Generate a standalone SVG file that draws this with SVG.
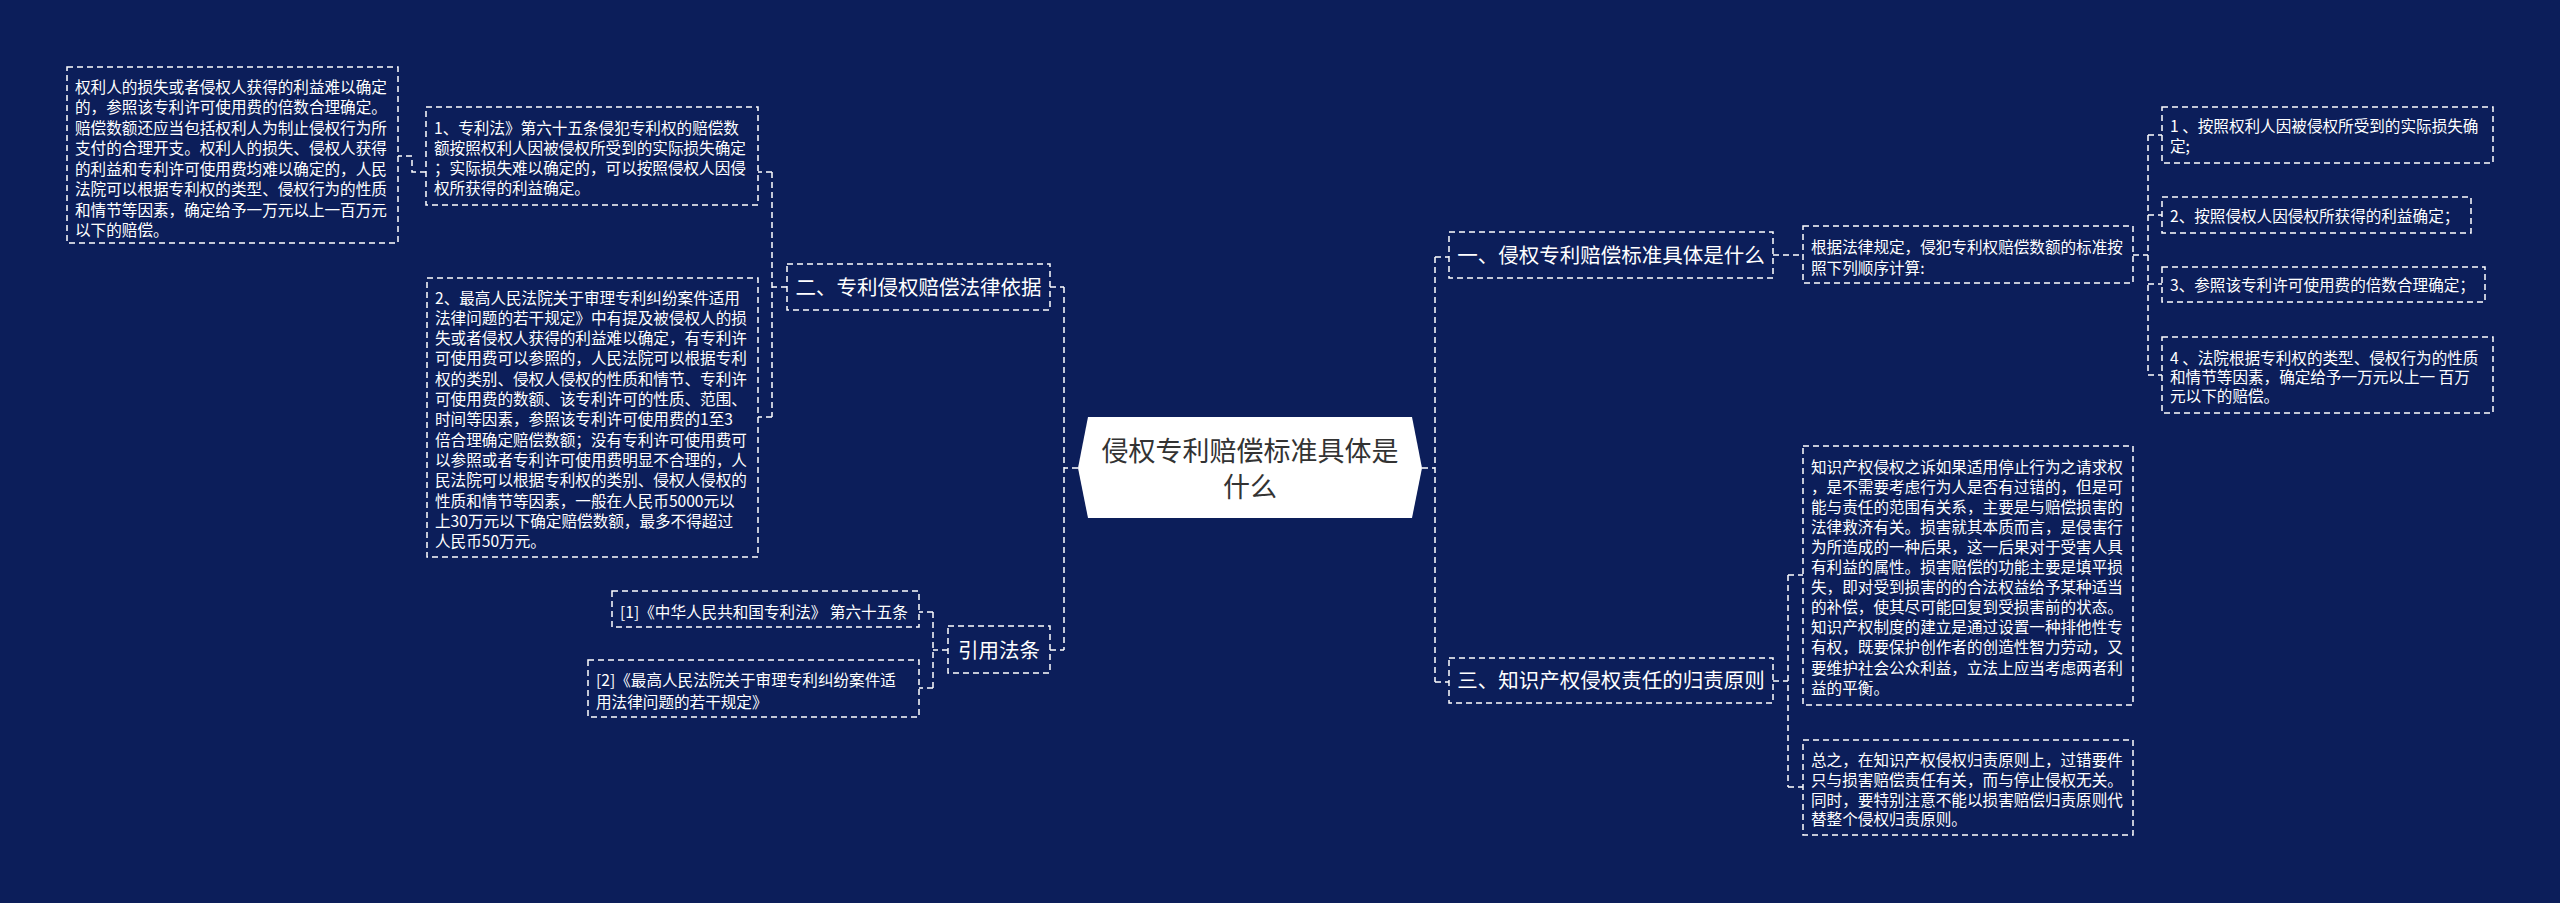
<svg xmlns="http://www.w3.org/2000/svg" width="2560" height="903" viewBox="0 0 2560 903">
<style>
.bg{fill:#0c1e5a}
.box{fill:none;stroke:#ffffff;stroke-width:1.5;stroke-dasharray:6 4}
.ln{fill:none;stroke:#ffffff;stroke-width:1.5;stroke-dasharray:6 4}
.t{font-family:"Noto Sans CJK SC","Noto Sans",sans-serif;font-size:15.6px;fill:#ffffff}
.h{font-family:"Noto Sans CJK SC","Noto Sans",sans-serif;font-size:20.5px;fill:#ffffff;text-anchor:middle}
.c{font-family:"Noto Sans CJK SC","Noto Sans",sans-serif;font-size:27px;fill:#333333;text-anchor:middle}
</style>
<rect class="bg" x="0" y="0" width="2560" height="903"/>
<g id="connectors">
<path class="ln" d="M1078,468 H1064"/>
<path class="ln" d="M1064,287 V650 M1050,287 H1064 M1050,650 H1064"/>
<path class="ln" d="M787,287 H772 M772,172 V417 M772,172 H758 M772,417 H758"/>
<path class="ln" d="M426,172 H412 V156 H398"/>
<path class="ln" d="M948,650 H933 M933,612 V688 M933,612 H919 M933,688 H919"/>
<path class="ln" d="M1422,468 H1435 M1435,257 V682 M1435,257 H1449 M1435,682 H1449"/>
<path class="ln" d="M1773,255 H1803"/>
<path class="ln" d="M2133,255 H2148 M2148,135 V375 M2148,135 H2162 M2148,215 H2162 M2148,284 H2162 M2148,375 H2162"/>
<path class="ln" d="M1773,681 H1788 M1788,575 V787 M1788,575 H1803 M1788,787 H1803"/>
</g>
<g id="center">
<polygon points="1088,417 1412,417 1422,468 1412,518 1088,518 1078,468" fill="#ffffff"/>
<text class="c" x="1250" y="461">侵权专利赔偿标准具体是</text>
<text class="c" x="1250" y="497">什么</text>
</g>
<g id="n-basis">
<rect class="box" x="787" y="264" width="263" height="46"/>
<text class="h" x="918.5" y="294.5">二、专利侵权赔偿法律依据</text>
</g>
<g id="n-basis-1">
<rect class="box" x="426" y="107" width="332" height="98"/>
<text class="t" x="434"><tspan x="434" y="133.5">1、专利法》第六十五条侵犯专利权的赔偿数</tspan><tspan x="434" y="153.5">额按照权利人因被侵权所受到的实际损失确定</tspan><tspan x="434" y="173.5">；实际损失难以确定的，可以按照侵权人因侵</tspan><tspan x="434" y="193.5">权所获得的利益确定。</tspan></text>
</g>
<g id="n-basis-1-1">
<rect class="box" x="67" y="67" width="331" height="176"/>
<text class="t"><tspan x="75" y="92.5">权利人的损失或者侵权人获得的利益难以确定</tspan><tspan x="75" y="113">的，参照该专利许可使用费的倍数合理确定。</tspan><tspan x="75" y="133.5">赔偿数额还应当包括权利人为制止侵权行为所</tspan><tspan x="75" y="154">支付的合理开支。权利人的损失、侵权人获得</tspan><tspan x="75" y="174.5">的利益和专利许可使用费均难以确定的，人民</tspan><tspan x="75" y="195">法院可以根据专利权的类型、侵权行为的性质</tspan><tspan x="75" y="215.5">和情节等因素，确定给予一万元以上一百万元</tspan><tspan x="75" y="236">以下的赔偿。</tspan></text>
</g>
<g id="n-basis-2">
<rect class="box" x="427" y="278" width="331" height="279"/>
<text class="t"><tspan x="435" y="303.5">2、最高人民法院关于审理专利纠纷案件适用</tspan><tspan x="435" y="323.8">法律问题的若干规定》中有提及被侵权人的损</tspan><tspan x="435" y="344.1">失或者侵权人获得的利益难以确定，有专利许</tspan><tspan x="435" y="364.4">可使用费可以参照的，人民法院可以根据专利</tspan><tspan x="435" y="384.7">权的类别、侵权人侵权的性质和情节、专利许</tspan><tspan x="435" y="405">可使用费的数额、该专利许可的性质、范围、</tspan><tspan x="435" y="425.3">时间等因素，参照该专利许可使用费的1至3</tspan><tspan x="435" y="445.6">倍合理确定赔偿数额；没有专利许可使用费可</tspan><tspan x="435" y="465.9">以参照或者专利许可使用费明显不合理的，人</tspan><tspan x="435" y="486.2">民法院可以根据专利权的类别、侵权人侵权的</tspan><tspan x="435" y="506.5">性质和情节等因素，一般在人民币5000元以</tspan><tspan x="435" y="526.8">上30万元以下确定赔偿数额，最多不得超过</tspan><tspan x="435" y="547.1">人民币50万元。</tspan></text>
</g>
<g id="n-law">
<rect class="box" x="948" y="626" width="102" height="47"/>
<text class="h" x="999" y="657.5">引用法条</text>
</g>
<g id="n-law-1">
<rect class="box" x="612" y="591" width="307" height="36"/>
<text class="t" x="620" y="617.5">[1]《中华人民共和国专利法》 第六十五条</text>
</g>
<g id="n-law-2">
<rect class="box" x="588" y="660" width="331" height="57"/>
<text class="t"><tspan x="596" y="685.5">[2]《最高人民法院关于审理专利纠纷案件适</tspan><tspan x="596" y="707.5">用法律问题的若干规定》</tspan></text>
</g>
<g id="n-standard">
<rect class="box" x="1449" y="232" width="324" height="46"/>
<text class="h" x="1611" y="262.5">一、侵权专利赔偿标准具体是什么</text>
</g>
<g id="n-standard-1">
<rect class="box" x="1803" y="226" width="330" height="57"/>
<text class="t"><tspan x="1811" y="252.5">根据法律规定，侵犯专利权赔偿数额的标准按</tspan><tspan x="1811" y="273.5">照下列顺序计算:</tspan></text>
</g>
<g id="n-standard-1-1">
<rect class="box" x="2162" y="107" width="331" height="56"/>
<text class="t"><tspan x="2170" y="131.5">1 、按照权利人因被侵权所受到的实际损失确</tspan><tspan x="2170" y="151.5">定;</tspan></text>
</g>
<g id="n-standard-1-2">
<rect class="box" x="2162" y="197" width="309" height="36"/>
<text class="t" x="2170" y="221.5">2、按照侵权人因侵权所获得的利益确定；</text>
</g>
<g id="n-standard-1-3">
<rect class="box" x="2162" y="267" width="323" height="35"/>
<text class="t" x="2170" y="290.5">3、参照该专利许可使用费的倍数合理确定；</text>
</g>
<g id="n-standard-1-4">
<rect class="box" x="2162" y="337" width="331" height="76"/>
<text class="t"><tspan x="2170" y="363.5">4 、法院根据专利权的类型、侵权行为的性质</tspan><tspan x="2170" y="382.5">和情节等因素，确定给予一万元以上一 百万</tspan><tspan x="2170" y="401.5">元以下的赔偿。</tspan></text>
</g>
<g id="n-principle">
<rect class="box" x="1449" y="658" width="324" height="45"/>
<text class="h" x="1611" y="688">三、知识产权侵权责任的归责原则</text>
</g>
<g id="n-principle-1">
<rect class="box" x="1803" y="446" width="330" height="259"/>
<text class="t"><tspan x="1811" y="472.5">知识产权侵权之诉如果适用停止行为之请求权</tspan><tspan x="1811" y="492.6">，是不需要考虑行为人是否有过错的，但是可</tspan><tspan x="1811" y="512.7">能与责任的范围有关系，主要是与赔偿损害的</tspan><tspan x="1811" y="532.8">法律救济有关。损害就其本质而言，是侵害行</tspan><tspan x="1811" y="552.9">为所造成的一种后果，这一后果对于受害人具</tspan><tspan x="1811" y="573">有利益的属性。损害赔偿的功能主要是填平损</tspan><tspan x="1811" y="593.1">失，即对受到损害的的合法权益给予某种适当</tspan><tspan x="1811" y="613.2">的补偿，使其尽可能回复到受损害前的状态。</tspan><tspan x="1811" y="633.3">知识产权制度的建立是通过设置一种排他性专</tspan><tspan x="1811" y="653.4">有权，既要保护创作者的创造性智力劳动，又</tspan><tspan x="1811" y="673.5">要维护社会公众利益，立法上应当考虑两者利</tspan><tspan x="1811" y="693.6">益的平衡。</tspan></text>
</g>
<g id="n-principle-2">
<rect class="box" x="1803" y="740" width="330" height="95"/>
<text class="t"><tspan x="1811" y="765.5">总之，在知识产权侵权归责原则上，过错要件</tspan><tspan x="1811" y="785.5">只与损害赔偿责任有关，而与停止侵权无关。</tspan><tspan x="1811" y="805.5">同时，要特别注意不能以损害赔偿归责原则代</tspan><tspan x="1811" y="825">替整个侵权归责原则。</tspan></text>
</g>
</svg>
